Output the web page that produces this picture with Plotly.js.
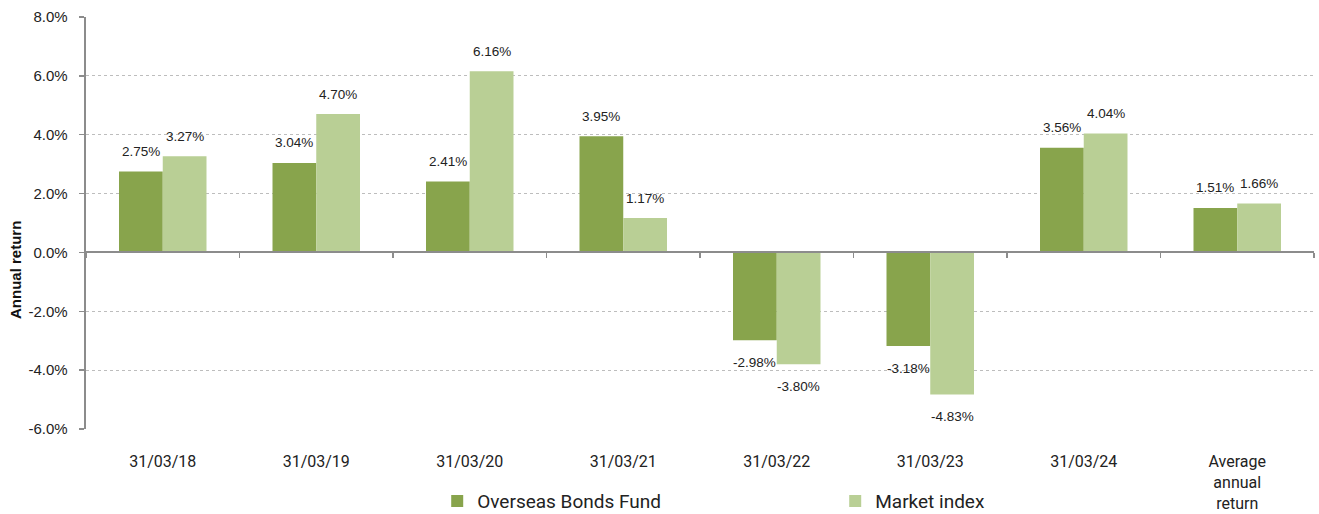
<!DOCTYPE html>
<html>
<head>
<meta charset="utf-8">
<script src="https://cdn.plot.ly/plotly-3.0.1.min.js"></script>
<style>html,body{margin:0;padding:0;background:#fff;}#chart{width:1319px;height:514px;}</style>
</head>
<body>
<div id="chart"></div>
<script>
const categories = ["31/03/18","31/03/19","31/03/20","31/03/21","31/03/22","31/03/23","31/03/24","Average<br>annual<br>return"];
const fundValues = [2.75, 3.04, 2.41, 3.95, -2.98, -3.18, 3.56, 1.51];
const indexValues = [3.27, 4.70, 6.16, 1.17, -3.80, -4.83, 4.04, 1.66];
const seriesNames = ["Overseas Bonds Fund", "Market index"];
const seriesColors = ["#88a44c", "#b9cf95"];
const yTicks = [-6, -4, -2, 0, 2, 4, 6, 8];
const yTitle = "Annual return";

const W = 1319, H = 514;
const margin = {l: 86, r: 5, t: 17, b: 85, autoexpand: false};
const plotW = W - margin.l - margin.r;
const bargap = 0.43;
const barPx = plotW / categories.length * (1 - bargap) / 2;

const fmt = v => v.toFixed(2) + "%";

const traces = [
  {type: "bar", name: seriesNames[0], x: categories, y: fundValues,
   marker: {color: seriesColors[0], line: {width: 0}}, hoverinfo: "skip"},
  {type: "bar", name: seriesNames[1], x: categories, y: indexValues,
   marker: {color: seriesColors[1], line: {width: 0}}, hoverinfo: "skip"},
  {type: "scatter", x: categories, y: categories.map(() => null), xaxis: "x2",
   showlegend: false, hoverinfo: "skip", mode: "markers"}
];

const annotations = [];
[fundValues, indexValues].forEach((vals, s) => {
  vals.forEach((v, i) => {
    annotations.push({
      x: categories[i], y: v, xref: "x", yref: "y",
      text: fmt(v), showarrow: false,
      xshift: (s === 0 ? -1 : 1) * barPx / 2,
      yshift: v >= 0 ? 20 : -22,
      font: {family: "Liberation Sans, Arial, sans-serif", size: 13.5, color: "#222"}
    });
  });
});
annotations.push({
  text: "<b>" + yTitle + "</b>", xref: "paper", yref: "paper",
  x: -0.057, y: 0.386, xanchor: "center", yanchor: "middle",
  textangle: -90, showarrow: false,
  font: {family: "Liberation Sans, Arial, sans-serif", size: 15, color: "#111"}
});

const layout = {
  width: W, height: H,
  margin: margin,
  paper_bgcolor: "#fff", plot_bgcolor: "#fff",
  barmode: "group", bargap: bargap, bargroupgap: 0,
  showlegend: true,
  legend: {orientation: "h", x: 0.286, xanchor: "left", y: -0.175, yanchor: "middle",
    entrywidth: 353, entrywidthmode: "pixels", bgcolor: "rgba(0,0,0,0)",
    font: {family: "Roboto, sans-serif", size: 19, color: "#222"},
    itemclick: false, itemdoubleclick: false},
  xaxis: {type: "category", categoryarray: categories, range: [-0.5, 7.5],
    showline: false, showgrid: false, zeroline: false, automargin: false,
    ticks: "outside", ticklen: 18, tickcolor: "rgba(0,0,0,0)",
    tickfont: {family: "Roboto, sans-serif", size: 16, color: "#222"}, fixedrange: true},
  xaxis2: {type: "category", categoryarray: categories, range: [-0.5, 7.5], overlaying: "x",
    anchor: "free", position: 6/14, side: "bottom", automargin: false,
    showline: true, linecolor: "#8c8c8c", linewidth: 2,
    ticks: "outside", tickson: "boundaries", ticklen: 5, tickcolor: "#8c8c8c", tickwidth: 1.5,
    showticklabels: false, showgrid: false, zeroline: false, fixedrange: true},
  yaxis: {range: [-6, 8], tickvals: yTicks, ticktext: yTicks.map(v => v.toFixed(1) + "%\u00a0\u00a0"),
    showline: true, linecolor: "#8c8c8c", linewidth: 2, automargin: false,
    ticks: "outside", ticklen: 5, tickcolor: "#8c8c8c", tickwidth: 1.5,
    showgrid: true, gridcolor: "#bdbdbd", griddash: "dot", gridwidth: 1,
    zeroline: false,
    tickfont: {family: "Liberation Sans, Arial, sans-serif", size: 15, color: "#222"},
    fixedrange: true},
  annotations: annotations
};

Plotly.newPlot("chart", traces, layout, {displayModeBar: false, staticPlot: true});
</script>
</body>
</html>
